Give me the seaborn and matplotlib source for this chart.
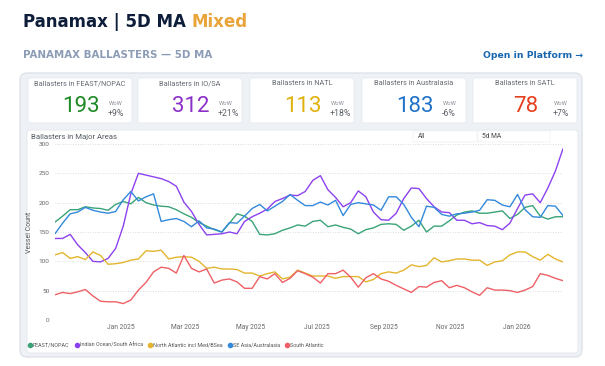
import numpy as np
import pandas as pd
import seaborn as sns
import matplotlib
matplotlib.use("Agg")
import matplotlib.pyplot as plt
from matplotlib.patches import FancyBboxPatch
from matplotlib.transforms import IdentityTransform
from matplotlib.lines import Line2D

# ---------------- data ----------------
start_date = "2024-11-01"
n_points = 68

feast_nopac = [167, 177, 188, 188, 193, 191, 190, 187, 197, 202, 198, 209, 200, 196, 194, 193, 188,
               181, 175, 166, 160, 154, 150, 165, 181, 177, 168, 146, 145, 147, 153, 157, 162, 160,
               168, 170, 159, 162, 158, 155, 147, 154, 157, 163, 164, 163, 153, 160, 170, 150,
               160, 160, 169, 179, 184, 186, 182, 182, 184, 186, 173, 180, 192, 195, 177, 172, 176, 176]
io_sa = [139, 139, 146, 128, 115, 100, 99, 105, 122, 160, 215, 250, 247, 244, 241, 236, 228,
         201, 185, 163, 145, 146, 147, 150, 147, 168, 176, 182, 189, 202, 207, 213, 212, 219,
         238, 246, 222, 209, 193, 200, 220, 210, 184, 171, 170, 182, 207, 225, 224, 207,
         193, 184, 183, 170, 170, 164, 166, 161, 160, 154, 165, 190, 213, 215, 200, 225, 254, 292]
natl = [111, 115, 105, 108, 103, 116, 110, 95, 96, 98, 102, 104, 118, 117, 119, 104, 107,
        108, 107, 100, 88, 90, 87, 87, 86, 80, 80, 75, 79, 82, 70, 73, 85, 80,
        75, 75, 75, 71, 74, 74, 74, 65, 69, 79, 82, 80, 85, 94, 91, 93,
        106, 99, 101, 104, 104, 102, 102, 93, 99, 101, 111, 116, 116, 108, 102, 112, 104, 99]
se_asia = [147, 165, 181, 184, 192, 187, 184, 182, 185, 205, 219, 203, 210, 215, 168, 171, 173,
           168, 159, 169, 157, 155, 150, 166, 165, 177, 190, 197, 186, 194, 202, 214, 204, 195,
           195, 201, 196, 204, 178, 197, 200, 198, 196, 187, 210, 210, 197, 175, 159, 194,
           192, 180, 177, 181, 182, 184, 187, 205, 204, 196, 193, 214, 188, 176, 175, 195, 194, 178]
satl = [43, 47, 45, 48, 52, 41, 32, 31, 31, 28, 34, 51, 64, 82, 90, 88, 80,
        110, 88, 82, 87, 63, 68, 70, 65, 54, 54, 74, 70, 79, 64, 71, 84, 79,
        73, 63, 79, 79, 85, 73, 56, 72, 79, 70, 66, 59, 53, 47, 57, 56,
        64, 67, 55, 59, 55, 48, 42, 55, 51, 51, 50, 47, 51, 57, 79, 76, 71, 67]

series_names = ["FEAST/NOPAC", "Indian Ocean/South Africa", "North Atlantic incl Med/BSea",
                "SE Asia/Australasia", "South Atlantic"]
series_values = [feast_nopac, io_sa, natl, se_asia, satl]
line_colors = ["#3aa378", "#8c42ef", "#e3b52e", "#3389dc", "#ee6066"]

card_titles = ["Ballasters in FEAST/NOPAC", "Ballasters in IO/SA", "Ballasters in NATL",
               "Ballasters in Australasia", "Ballasters in SATL"]
card_values = ["193", "312", "113", "183", "78"]
card_wow = ["+9%", "+21%", "+18%", "-6%", "+7%"]
card_colors = ["#1f8a24", "#8b2fc9", "#e0b10c", "#1f72c8", "#e4401e"]

y_ticks = [0, 50, 100, 150, 200, 250, 300]
x_tick_dates = ["2025-01-01", "2025-03-01", "2025-05-01", "2025-07-01", "2025-09-01",
                "2025-11-01", "2026-01-01"]
x_tick_labels = ["Jan 2025", "Mar 2025", "May 2025", "Jul 2025", "Sep 2025", "Nov 2025", "Jan 2026"]

dates = pd.date_range(start_date, periods=n_points, freq="7D")
df = pd.concat([pd.DataFrame({"date": dates, "value": v, "area": n})
                for n, v in zip(series_names, series_values)], ignore_index=True)

# ---------------- figure ----------------
W, H = 605, 366
sns.set_theme(style="white")
plt.rcParams["font.family"] = ["DejaVu Sans"]
fig = plt.figure(figsize=(W / 100, H / 100), dpi=100)
fig.patch.set_facecolor("white")


def fx(px):
    return px / W


def fy(py):
    return 1 - py / H


def box(x0, y0, x1, y1, r, fc, ec, lw=0.8, z=0):
    p = FancyBboxPatch((x0, H - y1), x1 - x0, y1 - y0,
                       boxstyle=f"round,pad=0,rounding_size={r}",
                       transform=IdentityTransform(), facecolor=fc, edgecolor=ec,
                       linewidth=lw, zorder=z)
    fig.patches.append(p)


# header
t1 = fig.text(fx(23), fy(22), "Panamax | 5D MA ", fontsize=12, fontweight="bold",
              color="#0e1d3a", va="center", ha="left")
fig.canvas.draw()
bb = t1.get_window_extent()
fig.text(bb.x1 / W, fy(22), "Mixed", fontsize=12, fontweight="bold",
         color="#e9a53c", va="center", ha="left")
fig.text(fx(23), fy(55), "PANAMAX BALLASTERS — 5D MA", fontsize=7.4, fontweight="bold",
         color="#8c9cb6", va="center", ha="left")
fig.text(fx(583), fy(56), "Open in Platform →", fontsize=6.7, fontweight="bold",
         color="#1866b0", va="center", ha="right")

# outer panel
box(20, 73, 582, 357, 7, "#eef1f5", "#dfe4ea", lw=1.0, z=0)

# cards
card_lefts = [28, 138, 250, 362, 473]
for left, title, val, wow, col in zip(card_lefts, card_titles, card_values, card_wow, card_colors):
    box(left, 78, left + 104, 123, 2, "white", "#e6e9ee", lw=0.6, z=1)
    fig.text(fx(left + 52), fy(83.5), title, fontsize=5.3, color="#666b73",
             ha="center", va="center", family="Roboto", zorder=3)
    fig.text(fx(left + 53), fy(107), val, fontsize=16, color=col,
             ha="center", va="center", family="Roboto", zorder=3)
    fig.text(fx(left + 81), fy(103.5), "WoW", fontsize=4.2, color="#8a8f96",
             ha="left", va="center", family="Roboto", zorder=3)
    fig.text(fx(left + 80), fy(113), wow, fontsize=6.3, color="#5d6269",
             ha="left", va="center", family="Roboto", zorder=3)

# chart panel
box(27, 130, 578, 353, 3, "white", "#e3e7ec", lw=0.6, z=1)
fig.text(fx(31), fy(137), "Ballasters in Major Areas", fontsize=5.6, color="#555a61",
         ha="left", va="center", family="Roboto", zorder=3)
box(413, 131, 477, 142, 0, "white", "#eceef1", lw=0.5, z=2)
box(478, 131, 550, 142, 0, "white", "#eceef1", lw=0.5, z=2)
fig.text(fx(418), fy(136.5), "All", fontsize=4.8, color="#444", ha="left", va="center",
         family="Roboto", zorder=3)
fig.text(fx(482), fy(136.5), "5d MA", fontsize=4.8, color="#444", ha="left", va="center",
         family="Roboto", zorder=3)

# axes
ax = fig.add_axes([fx(55), fy(320), fx(563) - fx(55), fy(144) - fy(320)])
ax.set_zorder(5)
ax.set_facecolor("none")
sns.lineplot(data=df, x="date", y="value", hue="area", palette=line_colors,
             hue_order=series_names, linewidth=1.0, ax=ax, legend=False)
ax.set_xlim(dates[0], dates[-1])
ax.set_ylim(0, 300)
ax.set_yticks(y_ticks)
ax.set_yticklabels([str(v) for v in y_ticks], fontsize=4.6, color="#666", family="Roboto")
ax.set_xticks(pd.to_datetime(x_tick_dates))
ax.set_xticklabels(x_tick_labels, fontsize=4.8, color="#666", family="Roboto")
ax.tick_params(axis="both", length=0, pad=3)
ax.tick_params(axis="y", pad=4)
ax.grid(axis="y", linestyle=(0, (1, 2)), color="#cfd3d8", linewidth=0.6)
for s in ax.spines.values():
    s.set_visible(False)
ax.set_xlabel("")
ax.set_ylabel("Vessel Count", fontsize=5, color="#555", family="Roboto", labelpad=4)

handles = [Line2D([], [], marker="o", linestyle="", markersize=3.0, color=c) for c in line_colors]
leg = fig.legend(handles, series_names, loc="center left", bbox_to_anchor=(fx(28), fy(345)),
                 ncol=5, frameon=False, handletextpad=0.2, columnspacing=1.0,
                 handlelength=0.7, borderaxespad=0, borderpad=0, labelcolor="#555",
                 prop={"family": "Roboto", "size": 3.9})
leg.set_zorder(6)

fig.savefig("out.png", dpi=100)
